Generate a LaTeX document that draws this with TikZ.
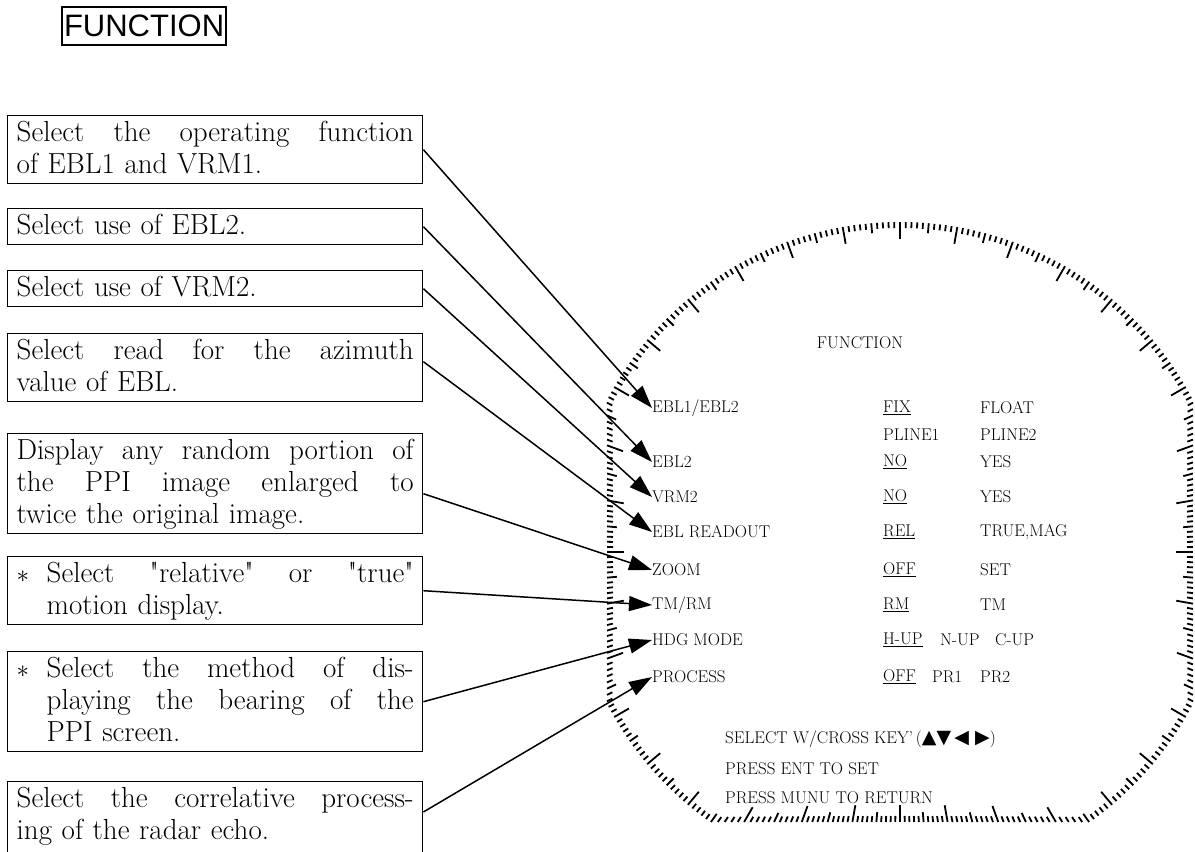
\documentclass[tikz,border=0pt]{standalone}
\usepackage{fontspec}
\setsansfont{Liberation Sans}
\newfontfamily\symfont{DejaVu Sans}
\usepackage{tikz}
\usetikzlibrary{arrows.meta}
\usetikzlibrary{calc}
\usetikzlibrary{positioning}

\newcommand{\fullline}[2][397pt]{\makebox[#1][s]{\spaceskip=0.3333em plus 1em minus 0.11em\relax#2}}
\newcommand{\starline}[1]{\fullline{\makebox[30pt][l]{$\ast$}#1}}
\newcommand{\qq}{\textquotedbl}
\newcommand{\boxstrut}{\rule[-0.25\baselineskip]{0pt}{\baselineskip}}

\tikzset{
  descbox/.style={draw, line width=1.4pt, anchor=north west, text width=397pt,
    inner xsep=9pt, inner ysep=2pt, align=left, font=\fontsize{29}{32}\selectfont,
    execute at begin node=\boxstrut, execute at end node=\boxstrut},
  menu/.style={anchor=west, inner sep=0pt, font=\fontsize{17}{20}\selectfont},
  tick/.style={line width=1.8pt},
  callout/.style={line width=1.5pt, -{Triangle[length=23pt,width=15pt]}}
}

\begin{document}
\begin{tikzpicture}[x=1pt, y=-1pt]
\useasboundingbox (0,0) rectangle (1195,852);

%title
\node[draw, line width=2pt, anchor=north west, inner xsep=2pt, inner ysep=8pt,
  font=\sffamily\fontsize{31}{36}\selectfont] (title) at (61,6) {FUNCTION};

%scale ring
\coordinate (ctr) at (900,552);
\foreach \a in {0,1,...,359} {
  \pgfmathsetmacro\c{cos(\a)}
  \pgfmathsetmacro\s{sin(\a)}
  \pgfmathsetmacro\ro{min(330, 293/max(-\c,0.02), 293/max(\c,0.02), 270/max(\s,0.02))}
  \pgfmathsetmacro\tl{mod(\a,10)==0 ? 17 : (mod(\a,5)==0 ? 10 : 6)}
  \draw[tick, shift={(ctr)}] (\a:\ro-\tl) -- (\a:\ro);
}

%menu
\node[menu, anchor=center] (head) at (860,343) {FUNCTION};
\node[menu] (ebl1) at (652,408) {EBL1/EBL2};
\node[menu] (ebl2) at (652,462) {EBL2};
\node[menu] (vrm2) at (652,497) {VRM2};
\node[menu] (readout) at (652,532) {EBL READOUT};
\node[menu] (zoom) at (652,570) {ZOOM};
\node[menu] (tmrm) at (652,605) {TM/RM};
\node[menu] (hdg) at (652,640) {HDG MODE};
\node[menu] (process) at (652,677) {PROCESS};

\node[menu] (fix) at (883,408) {\underline{FIX}};
\node[menu] (float) at (980,408) {FLOAT};
\node[menu] (pline1) at (883,435) {PLINE1};
\node[menu] (pline2) at (980,435) {PLINE2};
\node[menu] (no1) at (883,462) {\underline{NO}};
\node[menu] (yes1) at (980,462) {YES};
\node[menu] (no2) at (883,497) {\underline{NO}};
\node[menu] (yes2) at (980,497) {YES};
\node[menu] (rel) at (883,532) {\underline{REL}};
\node[menu] (truemag) at (980,532) {TRUE,MAG};
\node[menu] (off1) at (883,570) {\underline{OFF}};
\node[menu] (set) at (980,570) {SET};
\node[menu] (rm) at (883,605) {\underline{RM}};
\node[menu] (tm) at (980,605) {TM};
\node[menu] (hup) at (883,640) {\underline{H-UP}};
\node[menu] (nup) at (940,640) {N-UP};
\node[menu] (cup) at (995,640) {C-UP};
\node[menu] (off2) at (883,677) {\underline{OFF}};
\node[menu] (pr1) at (932,677) {PR1};
\node[menu] (pr2) at (980,677) {PR2};

\node[menu] (hint1) at (725,739) {SELECT W/CROSS KEY'\,({\symfont\fontsize{19}{20}\selectfont ▲▼\,◀\,\,▶})};
\node[menu] (hint2) at (725,769) {PRESS ENT TO SET};
\node[menu] (hint3) at (725,798) {PRESS MUNU TO RETURN};

%boxes
\node[descbox] (ebl1box) at (7,115) {\fullline{Select the operating function}\\of EBL1 and VRM1.};
\node[descbox] (ebl2box) at (7,208) {Select use of EBL2.};
\node[descbox] (vrm2box) at (7,270) {Select use of VRM2.};
\node[descbox] (readbox) at (7,333) {\fullline{Select read for the azimuth}\\value of EBL.};
\node[descbox] (zoombox) at (7,433) {\fullline{Display any random portion of}\\\fullline{the PPI image enlarged to}\\twice the original image.};
\node[descbox] (tmbox) at (7,556) {\starline{Select \qq relative\qq{} or \qq true\qq}\\\hspace*{30pt}motion display.};
\node[descbox] (hdgbox) at (7,651) {\starline{Select the method of dis-}\\\hspace*{30pt}\fullline[367pt]{playing the bearing of the}\\\hspace*{30pt}PPI screen.};
\node[descbox] (procbox) at (7,781) {\fullline{Select the correlative process-}\\ing of the radar echo.\\~};

%arrows
\draw[callout] (ebl1box.east) -- (ebl1.west);
\draw[callout] (ebl2box.east) -- (ebl2.west);
\draw[callout] (vrm2box.east) -- (vrm2.west);
\draw[callout] ([yshift=6pt]readbox.east) -- (readout.west);
\draw[callout] ([yshift=-10pt]zoombox.east) -- (zoom.west);
\draw[callout] (tmbox.east) -- (tmrm.west);
\draw[callout] (hdgbox.east) -- (hdg.west);
\draw[callout] ([yshift=-31pt]procbox.north east) -- (process.west);
\end{tikzpicture}
\end{document}
